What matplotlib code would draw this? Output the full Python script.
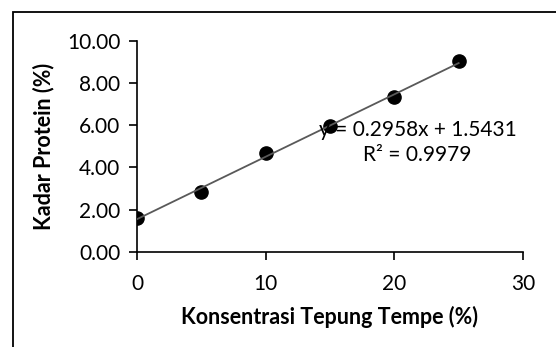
import numpy as np
import matplotlib.pyplot as plt
from matplotlib.patches import Rectangle

plt.rcParams['font.family'] = ['Lato', 'DejaVu Sans']

konsentrasi = [0, 5, 10, 15, 20, 25]
protein = [1.61, 2.81, 4.66, 5.96, 7.35, 9.05]
slope = 0.2958
intercept = 1.5431
r2 = 0.9979

fig = plt.figure(figsize=(5.56, 3.47), dpi=100)
ax = fig.add_axes([0.2464, 0.2746, 0.6942, 0.6081])

ax.plot(konsentrasi, protein, 'o', color='black', markersize=9.5, zorder=3)
xfit = np.array([min(konsentrasi), max(konsentrasi)])
ax.plot(xfit, slope * xfit + intercept, color='#595959', lw=1.3, zorder=4)

ax.text(21.8, 5.77, f'y = {slope:.4f}x + {intercept:.4f}', ha='center', va='center',
        fontsize=15, zorder=5)
ax.text(21.8, 4.58, f'R² = {r2:.4f}', ha='center', va='center', fontsize=15, zorder=5)

ax.set_xlim(0, 30)
ax.set_ylim(0, 10)
ax.set_xticks([0, 10, 20, 30])
ax.set_yticks(np.arange(0, 10.1, 2))
ax.yaxis.set_major_formatter(plt.FuncFormatter(lambda v, p: f'{v:.2f}'))
ax.tick_params(labelsize=15, length=6, width=1.2, direction='out', color='black')
ax.tick_params(axis='x', pad=10)
ax.tick_params(axis='y', pad=6)
for s in ['top', 'right']:
    ax.spines[s].set_visible(False)
for s in ['left', 'bottom']:
    ax.spines[s].set_linewidth(1.2)

ax.set_xlabel('Konsentrasi Tepung Tempe (%)', fontsize=15.5, fontweight='bold', labelpad=9)
ax.set_ylabel('Kadar Protein (%)', fontsize=15.5, fontweight='bold', labelpad=9)

# outer chart border
fig.patches.append(Rectangle((13 / 556, -0.1), 1.2, 1 - 12 / 347 + 0.1,
                             transform=fig.transFigure, fill=False,
                             edgecolor='black', lw=1.3))

fig.savefig('out.png', dpi=100)
